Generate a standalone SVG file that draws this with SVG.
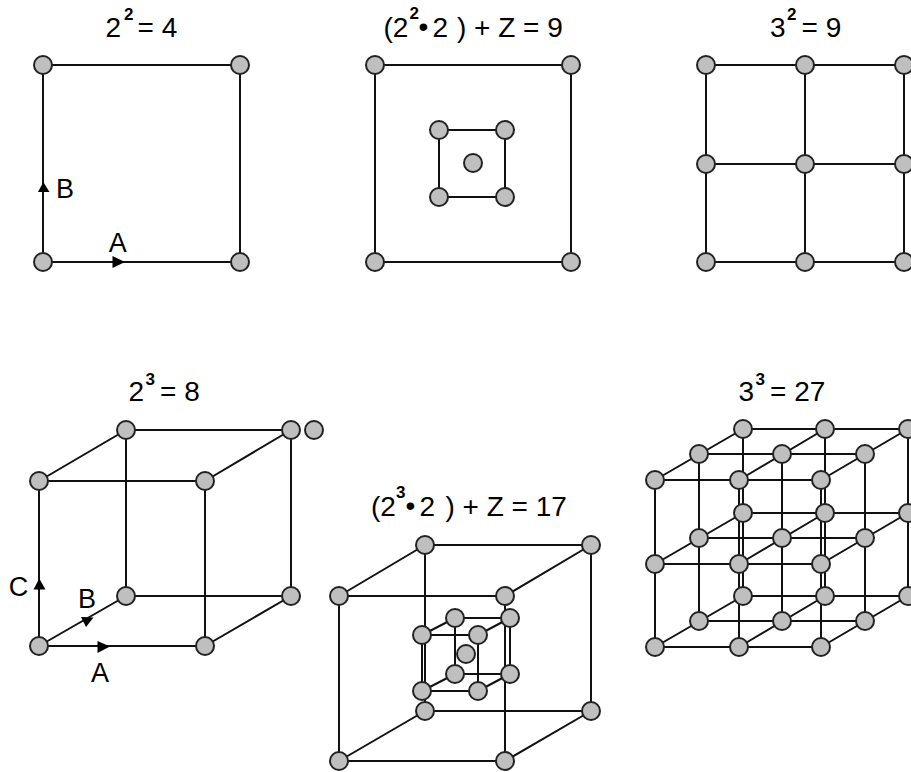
<svg xmlns="http://www.w3.org/2000/svg" width="911" height="772" viewBox="0 0 911 772">
<style>
.l{stroke:#111;stroke-width:2;fill:none}
.n{fill:#bfbfbf;stroke:#222;stroke-width:2}
.a{fill:#000}
text{font-family:"Liberation Sans",Arial,sans-serif;font-size:28px;fill:#000}
.s{font-size:17px;font-weight:bold}
.t{font-size:27px}
</style>
<rect width="911" height="772" fill="#fff"/>
<g id="connectors" class="l">
<path d="M43 65H240V262H43Z"/>
<path d="M375 65H571V262H375Z"/>
<path d="M439 130H505V197H439Z"/>
<path d="M706 65H911M706 164H911M706 262H911M706 65V262M805 65V262M904 65V262"/>
<path d="M39 481H205V646H39ZM126 430H291V596H126ZM39 481L126 430M205 481L291 430M39 646L126 596M205 646L291 596"/>
<path d="M339 596H505V761H339ZM425 545H591V711H425ZM339 596L425 545M505 596L591 545M339 761L425 711M505 761L591 711"/>
<path d="M422 635H478V691H422ZM455 618H510V674H455ZM422 635L455 618M478 635L510 618M422 691L455 674M478 691L510 674"/>
<path d="M655 480H821M655 564H821M655 647H821M699 454H865M699 538H865M699 621H865M743 429H911M743 513H911M743 596H911"/>
<path d="M655 480V647M739 480V647M821 480V647M699 454V621M782 454V621M865 454V621M743 429V596M825 429V596M908 429V596"/>
<path d="M655 480L743 429M739 480L825 429M821 480L908 429M655 564L743 513M739 564L825 513M821 564L908 513M655 647L743 596M739 647L825 596M821 647L908 596"/>
</g>
<g id="arrows" class="a">
<polygon points="112.5,256 125,262 112.5,268"/>
<polygon points="43.3,182 49.5,192 38,192"/>
<polygon points="39.3,578.5 45.5,589.5 33.5,589.5"/>
<polygon points="97.5,641 110,646.5 97.5,653"/>
<polygon points="81,617 93.5,617.5 86,627"/>
</g>
<g id="labels">
<text x="105.5" y="36.5">2</text><text class="s" x="124" y="20">2</text><text x="137.5" y="36.5">= 4</text>
<text x="383.5" y="36.5">(2</text><text class="s" x="409.5" y="19">2</text><text x="418.5" y="36">•</text><text x="432.5" y="36.5">2</text><text x="457" y="36.5">) + Z = 9</text>
<text x="770" y="36.5">3</text><text class="s" x="787" y="20">2</text><text x="801.5" y="36.5">= 9</text>
<text x="128.5" y="400.5">2</text><text class="s" x="145.5" y="385">3</text><text x="160" y="400.5">= 8</text>
<text x="738.5" y="400.5">3</text><text class="s" x="755.5" y="385">3</text><text x="770" y="400.5">= 27</text>
<text x="371" y="515.5">(2</text><text class="s" x="396" y="498">3</text><text x="405.5" y="515">•</text><text x="419.5" y="515.5">2</text><text x="445.5" y="515.5">) + Z = 17</text>
<text class="t" x="108.8" y="252">A</text><text class="t" x="56" y="197.5">B</text>
<text class="t" x="8.7" y="596">C</text><text class="t" x="78" y="607.5">B</text><text class="t" x="91" y="682">A</text>
</g>
<g id="n01"><circle class="n" cx="43" cy="65" r="9"/></g>
<g id="n02"><circle class="n" cx="240" cy="65" r="9"/></g>
<g id="n03"><circle class="n" cx="43" cy="262" r="9"/></g>
<g id="n04"><circle class="n" cx="240" cy="262" r="9"/></g>
<g id="n05"><circle class="n" cx="375" cy="65" r="9"/></g>
<g id="n06"><circle class="n" cx="571" cy="65" r="9"/></g>
<g id="n07"><circle class="n" cx="375" cy="262" r="9"/></g>
<g id="n08"><circle class="n" cx="571" cy="262" r="9"/></g>
<g id="n09"><circle class="n" cx="439" cy="130" r="9"/></g>
<g id="n10"><circle class="n" cx="505" cy="130" r="9"/></g>
<g id="n11"><circle class="n" cx="439" cy="197" r="9"/></g>
<g id="n12"><circle class="n" cx="505" cy="197" r="9"/></g>
<g id="n13"><circle class="n" cx="473" cy="163" r="9"/></g>
<g id="n14"><circle class="n" cx="706" cy="65" r="9"/></g>
<g id="n15"><circle class="n" cx="805" cy="65" r="9"/></g>
<g id="n16"><circle class="n" cx="904" cy="65" r="9"/></g>
<g id="n17"><circle class="n" cx="706" cy="164" r="9"/></g>
<g id="n18"><circle class="n" cx="805" cy="164" r="9"/></g>
<g id="n19"><circle class="n" cx="904" cy="164" r="9"/></g>
<g id="n20"><circle class="n" cx="706" cy="262" r="9"/></g>
<g id="n21"><circle class="n" cx="805" cy="262" r="9"/></g>
<g id="n22"><circle class="n" cx="904" cy="262" r="9"/></g>
<g id="n23"><circle class="n" cx="39" cy="481" r="9"/></g>
<g id="n24"><circle class="n" cx="205" cy="481" r="9"/></g>
<g id="n25"><circle class="n" cx="39" cy="646" r="9"/></g>
<g id="n26"><circle class="n" cx="205" cy="646" r="9"/></g>
<g id="n27"><circle class="n" cx="126" cy="430" r="9"/></g>
<g id="n28"><circle class="n" cx="291" cy="430" r="9"/></g>
<g id="n29"><circle class="n" cx="126" cy="596" r="9"/></g>
<g id="n30"><circle class="n" cx="291" cy="596" r="9"/></g>
<g id="n31"><circle class="n" cx="314" cy="430" r="9"/></g>
<g id="n32"><circle class="n" cx="425" cy="545" r="9"/></g>
<g id="n33"><circle class="n" cx="591" cy="545" r="9"/></g>
<g id="n34"><circle class="n" cx="425" cy="711" r="9"/></g>
<g id="n35"><circle class="n" cx="591" cy="711" r="9"/></g>
<g id="n36"><circle class="n" cx="339" cy="596" r="9"/></g>
<g id="n37"><circle class="n" cx="505" cy="596" r="9"/></g>
<g id="n38"><circle class="n" cx="339" cy="761" r="9"/></g>
<g id="n39"><circle class="n" cx="505" cy="761" r="9"/></g>
<g id="n40"><circle class="n" cx="455" cy="618" r="9"/></g>
<g id="n41"><circle class="n" cx="510" cy="618" r="9"/></g>
<g id="n42"><circle class="n" cx="455" cy="674" r="9"/></g>
<g id="n43"><circle class="n" cx="510" cy="674" r="9"/></g>
<g id="n44"><circle class="n" cx="422" cy="635" r="9"/></g>
<g id="n45"><circle class="n" cx="478" cy="635" r="9"/></g>
<g id="n46"><circle class="n" cx="422" cy="691" r="9"/></g>
<g id="n47"><circle class="n" cx="478" cy="691" r="9"/></g>
<g id="n48"><circle class="n" cx="466" cy="654" r="9"/></g>
<g id="n49"><circle class="n" cx="743" cy="429" r="9"/></g>
<g id="n50"><circle class="n" cx="825" cy="429" r="9"/></g>
<g id="n51"><circle class="n" cx="908" cy="429" r="9"/></g>
<g id="n52"><circle class="n" cx="743" cy="513" r="9"/></g>
<g id="n53"><circle class="n" cx="825" cy="513" r="9"/></g>
<g id="n54"><circle class="n" cx="908" cy="513" r="9"/></g>
<g id="n55"><circle class="n" cx="743" cy="596" r="9"/></g>
<g id="n56"><circle class="n" cx="825" cy="596" r="9"/></g>
<g id="n57"><circle class="n" cx="908" cy="596" r="9"/></g>
<g id="n58"><circle class="n" cx="699" cy="454" r="9"/></g>
<g id="n59"><circle class="n" cx="782" cy="454" r="9"/></g>
<g id="n60"><circle class="n" cx="865" cy="454" r="9"/></g>
<g id="n61"><circle class="n" cx="699" cy="538" r="9"/></g>
<g id="n62"><circle class="n" cx="782" cy="538" r="9"/></g>
<g id="n63"><circle class="n" cx="865" cy="538" r="9"/></g>
<g id="n64"><circle class="n" cx="699" cy="621" r="9"/></g>
<g id="n65"><circle class="n" cx="782" cy="621" r="9"/></g>
<g id="n66"><circle class="n" cx="865" cy="621" r="9"/></g>
<g id="n67"><circle class="n" cx="655" cy="480" r="9"/></g>
<g id="n68"><circle class="n" cx="739" cy="480" r="9"/></g>
<g id="n69"><circle class="n" cx="821" cy="480" r="9"/></g>
<g id="n70"><circle class="n" cx="655" cy="564" r="9"/></g>
<g id="n71"><circle class="n" cx="739" cy="564" r="9"/></g>
<g id="n72"><circle class="n" cx="821" cy="564" r="9"/></g>
<g id="n73"><circle class="n" cx="655" cy="647" r="9"/></g>
<g id="n74"><circle class="n" cx="739" cy="647" r="9"/></g>
<g id="n75"><circle class="n" cx="821" cy="647" r="9"/></g>
</svg>
